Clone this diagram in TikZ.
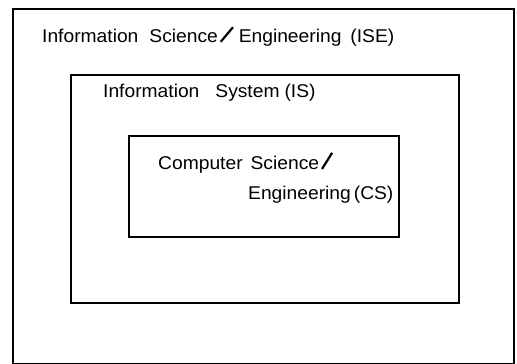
\documentclass[tikz,border=0pt]{standalone}
\usepackage{graphicx}
\usepackage{fontspec}
\setmainfont[FakeStretch=1.04]{Liberation Sans}
\newcommand{\bigslash}[3]{\hspace{2pt}\raisebox{-0.5pt}{\rotatebox{#2}{\rule{#1}{2.2pt}}}\hspace{#3}}
\begin{document}
\begin{tikzpicture}[x=1pt,y=-1pt,
  box/.style={draw=black,line width=1.8pt,rectangle,inner sep=0pt,anchor=north west},
  lbl/.style={anchor=base west,inner sep=0pt,font=\fontsize{18.5}{22}\selectfont}]
\useasboundingbox (0,0) rectangle (517,364);
\begin{scope}
\clip (0,0) rectangle (517,364);
\node[box,minimum width=501pt,minimum height=355pt] (ise) at (12,8) {};
\end{scope}
\node[box,minimum width=388pt,minimum height=228pt] (is) at (70,74) {};
\node[box,minimum width=270pt,minimum height=101pt] (cs) at (128,135) {};
\node[lbl] (tise) at (42,42) {Information\hspace{11pt}Science\bigslash{19pt}{50}{5pt}Engineering\hspace{9pt}(ISE)};
\node[lbl] (tis) at (103,97) {Information\hspace{16pt}System\hspace{5pt}(IS)};
\node[lbl] (tcs1) at (158,169) {Computer\hspace{8pt}Science\bigslash{19pt}{58}{0pt}};
\node[lbl] (tcs2) at (248,199) {Engineering\hspace{3pt}(CS)};
\end{tikzpicture}
\end{document}
